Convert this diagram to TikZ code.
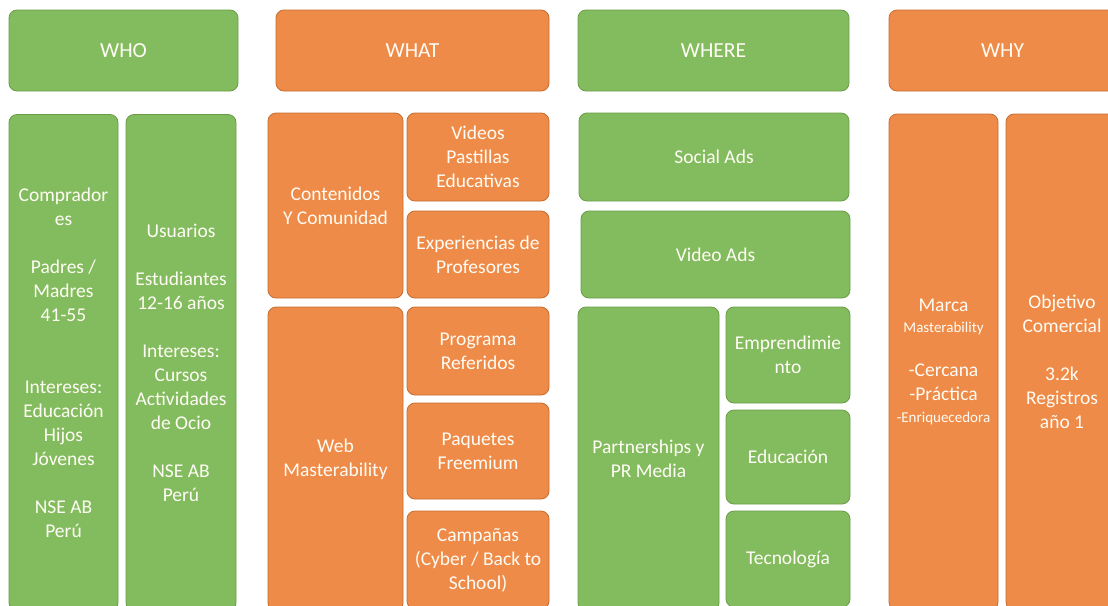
\documentclass[tikz,border=0pt]{standalone}
\usepackage{fontspec}
\setmainfont{Carlito}
\definecolor{gfill}{RGB}{131,188,94}
\definecolor{gline}{RGB}{106,156,72}
\definecolor{ofill}{RGB}{239,139,72}
\definecolor{oline}{RGB}{196,108,48}
\definecolor{txt}{RGB}{255,252,245}
\tikzset{
  basebox/.style={rounded corners=8pt, line width=0.8pt, inner sep=0pt, align=center,
    text=txt, font=\fontsize{19.5}{24}\selectfont},
  gbox/.style={basebox, fill=gfill, draw=gline},
  obox/.style={basebox, fill=ofill, draw=oline},
  headbox/.style={font=\fontsize{21.5}{24}\selectfont, minimum height=81pt},
}
\newcommand{\smalltxt}[1]{{\fontsize{15}{17}\selectfont #1}}
\begin{document}
\begin{tikzpicture}[x=1pt,y=-1pt]
\useasboundingbox (0,0) rectangle (1108,605);
\clip (0,0) rectangle (1108,605);
% headers
\node[gbox, headbox, minimum width=229pt] (who) at (123.5,50.5) {WHO};
\node[obox, headbox, minimum width=273pt] (what) at (412.5,50.5) {WHAT};
\node[gbox, headbox, minimum width=271pt] (where) at (713.5,50.5) {WHERE};
\node[obox, headbox, minimum width=227pt] (why) at (1002.5,50.5) {WHY};
% WHO
\node[gbox, minimum width=109pt, minimum height=496pt] (comp) at (63.5,362.5)
  {Comprador\\es\\[24pt]Padres /\\Madres\\41-55\\[48pt]Intereses:\\Educación\\Hijos\\Jóvenes\\[24pt]NSE AB\\Perú};
\node[gbox, minimum width=110pt, minimum height=496pt] (usu) at (181,362.5)
  {Usuarios\\[24pt]Estudiantes\\12-16 años\\[24pt]Intereses:\\Cursos\\Actividades\\de Ocio\\[24pt]NSE AB\\Perú};
% WHAT
\node[obox, minimum width=135pt, minimum height=185pt] (cont) at (335.5,205.5) {Contenidos\\Y Comunidad};
\node[obox, minimum width=135pt, minimum height=304pt] (web) at (335.5,459) {Web\\Masterability};
\node[obox, minimum width=142pt, minimum height=88pt] (vid) at (478,157) {Videos\\Pastillas\\Educativas};
\node[obox, minimum width=142pt, minimum height=87pt] (exp) at (478,254.5) {Experiencias de\\Profesores};
\node[obox, minimum width=142pt, minimum height=88pt] (prog) at (478,351) {Programa\\Referidos};
\node[obox, minimum width=142pt, minimum height=96pt] (paq) at (478,451) {Paquetes\\Freemium};
\node[obox, minimum width=142pt, minimum height=98pt] (camp) at (478,560) {Campañas\\(Cyber / Back to\\School)};
% WHERE
\node[gbox, minimum width=270pt, minimum height=88pt] (social) at (714,157) {Social Ads};
\node[gbox, minimum width=269pt, minimum height=87pt] (vads) at (715.5,254.5) {Video Ads};
\node[gbox, minimum width=141pt, minimum height=304pt] (part) at (648.5,459) {Partnerships y\\PR Media};
\node[gbox, minimum width=124pt, minimum height=96pt] (empr) at (788,355) {Emprendimie\\nto};
\node[gbox, minimum width=124pt, minimum height=94pt] (edu) at (788,457) {Educación};
\node[gbox, minimum width=124pt, minimum height=96pt] (tec) at (788,559) {Tecnología};
% WHY
\node[obox, minimum width=109pt, minimum height=496pt] (marca) at (943.5,362)
  {Marca\\[-3pt]\smalltxt{Masterability}\\[20pt]-Cercana\\-Práctica\\[-2pt]\smalltxt{-Enriquecedora}};
\node[obox, minimum width=112pt, minimum height=496pt] (obj) at (1062,362)
  {Objetivo\\Comercial\\[24pt]3.2k\\Registros\\año 1};
\end{tikzpicture}
\end{document}
